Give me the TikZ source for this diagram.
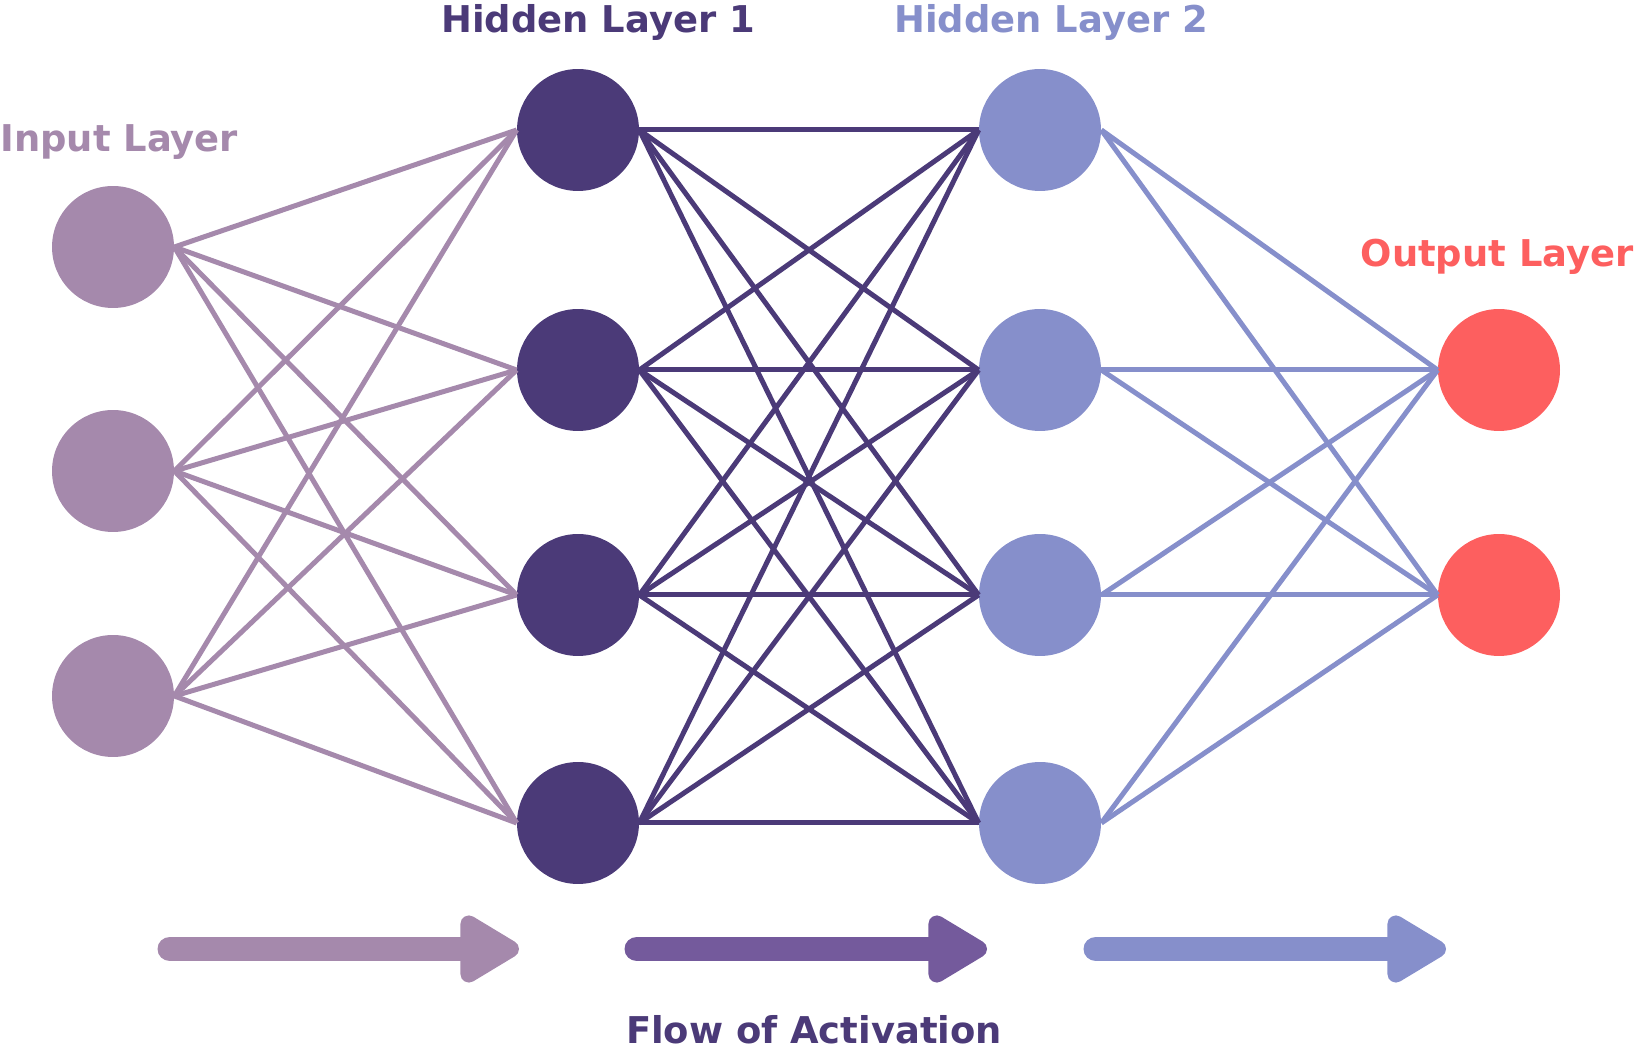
\documentclass[tikz,border=0pt]{standalone}
\usepackage{fontspec}
\setmainfont{DejaVu Sans}
\usepackage{xcolor}
\usetikzlibrary{arrows.meta}

\definecolor{inputcol}{HTML}{A589AC}
\definecolor{hiddenA}{HTML}{4B3A78}
\definecolor{hiddenB}{HTML}{868FCB}
\definecolor{outputcol}{HTML}{FD5F5F}
\definecolor{flowmid}{HTML}{745A9C}

\begin{document}
\begin{tikzpicture}[x=0.02cm, y=-0.02cm,
    neuron/.style={circle, minimum size=2.44cm, inner sep=0pt},
    link/.style={line width=0.1cm},
    layertext/.style={font=\bfseries\fontsize{21}{25}\selectfont},
    flow/.style={line width=0.5cm, line cap=round, -{Triangle[length=1.35cm, width=1.5cm, round]}}]
                    \useasboundingbox (0,0) rectangle (1634,1053);

                    % input layer
                    \node (in1) [neuron, fill=inputcol] at (113,247) {};
                    \node (in2) [neuron, fill=inputcol] at (113,471) {};
                    \node (in3) [neuron, fill=inputcol] at (113,696) {};

                    % hidden layer 1
                    \node (ha1) [neuron, fill=hiddenA] at (578,130) {};
                    \node (ha2) [neuron, fill=hiddenA] at (578,370) {};
                    \node (ha3) [neuron, fill=hiddenA] at (578,595) {};
                    \node (ha4) [neuron, fill=hiddenA] at (578,823) {};

                    % hidden layer 2
                    \node (hb1) [neuron, fill=hiddenB] at (1040,130) {};
                    \node (hb2) [neuron, fill=hiddenB] at (1040,370) {};
                    \node (hb3) [neuron, fill=hiddenB] at (1040,595) {};
                    \node (hb4) [neuron, fill=hiddenB] at (1040,823) {};

                    % output layer
                    \node (out1) [neuron, fill=outputcol] at (1499,370) {};
                    \node (out2) [neuron, fill=outputcol] at (1499,595) {};

                    \node (inlabel) [layertext, text=inputcol, anchor=base west, inner sep=0pt] at (0,152) {Input Layer};
                    \node (halabel) [layertext, text=hiddenA, anchor=base, inner sep=0pt] at (598,33) {Hidden Layer 1};
                    \node (hblabel) [layertext, text=hiddenB, anchor=base, inner sep=0pt] at (1051,33) {Hidden Layer 2};
                    \node (outlabel) [layertext, text=outputcol, anchor=base east, inner sep=0pt] at (1634,267) {Output Layer};
                    \node (flowlabel) [layertext, text=hiddenA, anchor=base, inner sep=0pt] at (814,1043) {Flow of Activation};

                    \draw[link, inputcol] (in1.east) -- (ha1.west);
                    \draw[link, inputcol] (in1.east) -- (ha2.west);
                    \draw[link, inputcol] (in1.east) -- (ha3.west);
                    \draw[link, inputcol] (in1.east) -- (ha4.west);
                    \draw[link, inputcol] (in2.east) -- (ha1.west);
                    \draw[link, inputcol] (in2.east) -- (ha2.west);
                    \draw[link, inputcol] (in2.east) -- (ha3.west);
                    \draw[link, inputcol] (in2.east) -- (ha4.west);
                    \draw[link, inputcol] (in3.east) -- (ha1.west);
                    \draw[link, inputcol] (in3.east) -- (ha2.west);
                    \draw[link, inputcol] (in3.east) -- (ha3.west);
                    \draw[link, inputcol] (in3.east) -- (ha4.west);

                    \draw[link, hiddenA] (ha1.east) -- (hb1.west);
                    \draw[link, hiddenA] (ha1.east) -- (hb2.west);
                    \draw[link, hiddenA] (ha1.east) -- (hb3.west);
                    \draw[link, hiddenA] (ha1.east) -- (hb4.west);
                    \draw[link, hiddenA] (ha2.east) -- (hb1.west);
                    \draw[link, hiddenA] (ha2.east) -- (hb2.west);
                    \draw[link, hiddenA] (ha2.east) -- (hb3.west);
                    \draw[link, hiddenA] (ha2.east) -- (hb4.west);
                    \draw[link, hiddenA] (ha3.east) -- (hb1.west);
                    \draw[link, hiddenA] (ha3.east) -- (hb2.west);
                    \draw[link, hiddenA] (ha3.east) -- (hb3.west);
                    \draw[link, hiddenA] (ha3.east) -- (hb4.west);
                    \draw[link, hiddenA] (ha4.east) -- (hb1.west);
                    \draw[link, hiddenA] (ha4.east) -- (hb2.west);
                    \draw[link, hiddenA] (ha4.east) -- (hb3.west);
                    \draw[link, hiddenA] (ha4.east) -- (hb4.west);

                    \draw[link, hiddenB] (hb1.east) -- (out1.west);
                    \draw[link, hiddenB] (hb1.east) -- (out2.west);
                    \draw[link, hiddenB] (hb2.east) -- (out1.west);
                    \draw[link, hiddenB] (hb2.east) -- (out2.west);
                    \draw[link, hiddenB] (hb3.east) -- (out1.west);
                    \draw[link, hiddenB] (hb3.east) -- (out2.west);
                    \draw[link, hiddenB] (hb4.east) -- (out1.west);
                    \draw[link, hiddenB] (hb4.east) -- (out2.west);

                    % flow arrows
                    \coordinate (flow1a) at (170,949);
                    \coordinate (flow1b) at (519,949);
                    \coordinate (flow2a) at (637,949);
                    \coordinate (flow2b) at (987,949);
                    \coordinate (flow3a) at (1096,949);
                    \coordinate (flow3b) at (1446,949);
                    \draw[flow, inputcol] (flow1a) -- (flow1b);
                    \draw[flow, flowmid] (flow2a) -- (flow2b);
                    \draw[flow, hiddenB] (flow3a) -- (flow3b);

                \end{tikzpicture}
\end{document}
